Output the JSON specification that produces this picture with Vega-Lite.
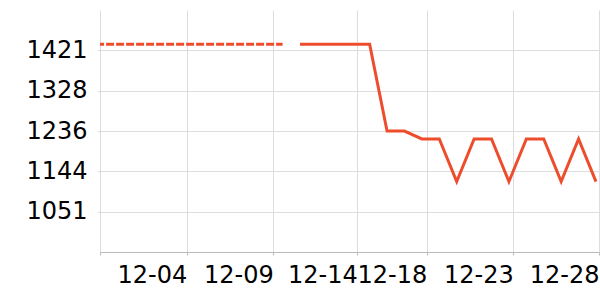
{
  "$schema": "https://vega.github.io/schema/vega-lite/v6.json",
  "width": 499,
  "height": 242,
  "autosize": "none",
  "padding": {"left": 100, "top": 10, "right": 1, "bottom": 48},
  "background": "white",
  "config": {"view": {"stroke": null}, "font": "DejaVu Sans"},
  "data": {
    "values": [
      {"date": "2023-11-29T00:00:00", "price": 1435, "series": "history"},
      {"date": "2023-11-30T00:00:00", "price": 1435, "series": "history"},
      {"date": "2023-12-01T00:00:00", "price": 1435, "series": "history"},
      {"date": "2023-12-02T00:00:00", "price": 1435, "series": "history"},
      {"date": "2023-12-03T00:00:00", "price": 1435, "series": "history"},
      {"date": "2023-12-04T00:00:00", "price": 1435, "series": "history"},
      {"date": "2023-12-05T00:00:00", "price": 1435, "series": "history"},
      {"date": "2023-12-06T00:00:00", "price": 1435, "series": "history"},
      {"date": "2023-12-07T00:00:00", "price": 1435, "series": "history"},
      {"date": "2023-12-08T00:00:00", "price": 1435, "series": "history"},
      {"date": "2023-12-09T00:00:00", "price": 1435, "series": "history"},
      {"date": "2023-12-10T00:00:00", "price": 1435, "series": "history"},
      {"date": "2023-12-11T00:00:00", "price": 1435, "series": "price"},
      {"date": "2023-12-12T00:00:00", "price": 1435, "series": "price"},
      {"date": "2023-12-13T00:00:00", "price": 1435, "series": "price"},
      {"date": "2023-12-14T00:00:00", "price": 1435, "series": "price"},
      {"date": "2023-12-15T00:00:00", "price": 1435, "series": "price"},
      {"date": "2023-12-16T00:00:00", "price": 1236, "series": "price"},
      {"date": "2023-12-17T00:00:00", "price": 1236, "series": "price"},
      {"date": "2023-12-18T00:00:00", "price": 1218, "series": "price"},
      {"date": "2023-12-19T00:00:00", "price": 1218, "series": "price"},
      {"date": "2023-12-20T00:00:00", "price": 1120, "series": "price"},
      {"date": "2023-12-21T00:00:00", "price": 1218, "series": "price"},
      {"date": "2023-12-22T00:00:00", "price": 1218, "series": "price"},
      {"date": "2023-12-23T00:00:00", "price": 1120, "series": "price"},
      {"date": "2023-12-24T00:00:00", "price": 1218, "series": "price"},
      {"date": "2023-12-25T00:00:00", "price": 1218, "series": "price"},
      {"date": "2023-12-26T00:00:00", "price": 1120, "series": "price"},
      {"date": "2023-12-27T00:00:00", "price": 1218, "series": "price"},
      {"date": "2023-12-28T00:00:00", "price": 1120, "series": "price"}
    ]
  },
  "encoding": {
    "x": {
      "field": "date",
      "type": "temporal",
      "scale": {
        "domain": [
          {"year": 2023, "month": "Nov", "date": 29, "hours": 12, "minutes": 17},
          {"year": 2023, "month": "Dec", "date": 28, "hours": 4, "minutes": 10}
        ]
      },
      "axis": {
        "title": null,
        "values": [
          {"year": 2023, "month": "Nov", "date": 29, "hours": 12, "minutes": 17},
          {"year": 2023, "month": "Dec", "date": 4, "hours": 11, "minutes": 48},
          {"year": 2023, "month": "Dec", "date": 9, "hours": 11, "minutes": 11},
          {"year": 2023, "month": "Dec", "date": 14, "hours": 7, "minutes": 0},
          {"year": 2023, "month": "Dec", "date": 18, "hours": 6, "minutes": 39},
          {"year": 2023, "month": "Dec", "date": 23, "hours": 6, "minutes": 3},
          {"year": 2023, "month": "Dec", "date": 28, "hours": 4, "minutes": 10}
        ],
        "format": "%m-%d",
        "labelExpr": "datum.index == 0 ? '' : datum.label",
        "labelAlign": "right",
        "labelBaseline": "top",
        "labelFontSize": 24,
        "labelColor": "#000000",
        "labelPadding": 8,
        "labelFlush": false,
        "labelOverlap": false,
        "labelBound": false,
        "tickSize": 3,
        "tickColor": "#bbbbbb",
        "domainColor": "#bbbbbb",
        "grid": true,
        "gridColor": "#dddddd"
      }
    },
    "y": {
      "field": "price",
      "type": "quantitative",
      "scale": {"domain": [958.6, 1513.6], "nice": false, "zero": false},
      "axis": {
        "title": null,
        "values": [1051.1, 1143.6, 1236.1, 1328.4, 1421.1],
        "format": ".0f",
        "labelFontSize": 24,
        "labelColor": "#000000",
        "labelPadding": 11,
        "tickSize": 2,
        "tickColor": "#cccccc",
        "domain": false,
        "grid": true,
        "gridColor": "#dddddd"
      }
    }
  },
  "layer": [
    {
      "transform": [{"filter": "datum.series === 'history'"}],
      "mark": {"type": "line", "color": "#ee4d2d", "strokeWidth": 3, "strokeDash": [8, 2], "strokeDashOffset": 5, "clip": true}
    },
    {
      "transform": [{"filter": "datum.series === 'price'"}],
      "mark": {"type": "line", "color": "#ee4d2d", "strokeWidth": 3}
    }
  ]
}
